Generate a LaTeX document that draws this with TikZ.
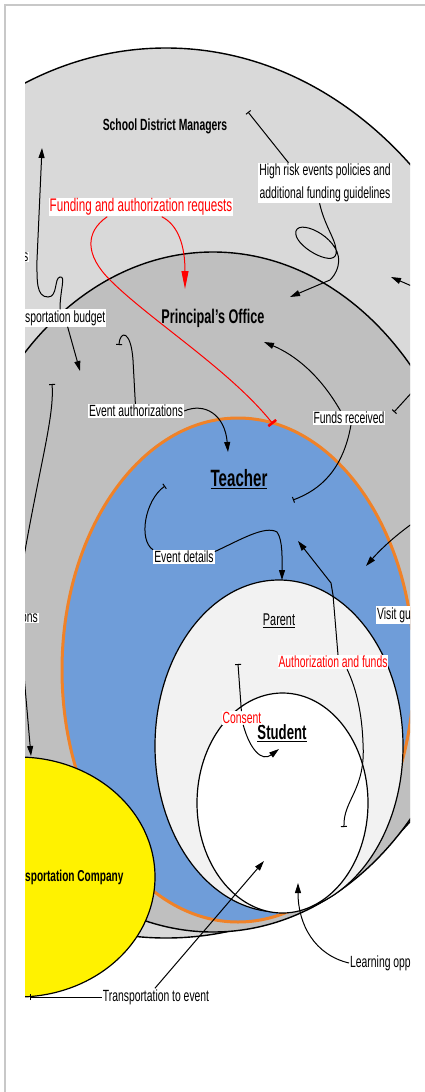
\documentclass[tikz,border=0pt]{standalone}
\usepackage{fontspec}
\setmainfont{Liberation Sans}[FakeStretch=0.64]
\usetikzlibrary{arrows.meta}
\definecolor{outergray}{RGB}{217,217,217}
\definecolor{midgray}{RGB}{191,191,191}
\definecolor{teacherblue}{RGB}{111,157,217}
\definecolor{rimorange}{RGB}{240,130,40}
\definecolor{parentgray}{RGB}{242,242,242}
\definecolor{framegray}{RGB}{200,200,200}

\begin{document}
\begin{tikzpicture}[x=1pt, y=-1pt,
	lbl/.style={fill=white, inner sep=1pt, font=\fontsize{16.2}{19}\selectfont},
	redlbl/.style={lbl, text=red},
	ttl/.style={inner sep=0pt, font=\fontsize{#1}{#1}\selectfont\bfseries},
	ttl/.default=16.2,
	arr/.style={-{Triangle[length=10pt,width=6pt]}, line width=1pt},
	tailed/.style={{Bar[width=6pt]}-, line width=1pt},
	redarr/.style={-{Triangle[length=18pt,width=7pt]}, red, line width=1pt},
	redtail/.style={-{Bar[width=10pt,line width=2.5pt]}, red, line width=1pt}]
		\useasboundingbox (0,0) rectangle (425,1092);
		\draw[framegray, line width=2pt] (5,1092) -- (5,5) -- (425,5);
		
		\begin{scope}
		\clip (25,20) rectangle (410,1030);
		
		% Circles
		\draw[fill=outergray, line width=1.4pt] (166,493) ellipse [x radius=362pt, y radius=445pt];
		\draw[fill=midgray, line width=1.4pt] (213,592) ellipse [x radius=265pt, y radius=340pt];
		\draw[fill=teacherblue, draw=rimorange, line width=3pt] (238,670) ellipse [x radius=176pt, y radius=252pt];
		\draw[fill=parentgray, line width=1.2pt] (279,746) ellipse [x radius=124pt, y radius=166pt];
		\draw[fill=white, line width=1.2pt] (282.5,803) ellipse [x radius=85.5pt, y radius=110pt];
		\draw[fill=yellow, line width=1.2pt] (18,877) ellipse [x radius=137pt, y radius=120pt];
		
		% Titles
		\node[ttl] (sdm) at (165,126) {School District Managers};
		\node[ttl=19.8] (office) at (213,318) {Principal's Office};
		\node[ttl=23.6] (teacher) at (239,479) {\underline{Teacher}};
		\node[inner sep=0pt, font=\fontsize{17}{17}\selectfont] (parent) at (279,621) {\underline{Parent}};
		\node[ttl=20.6] (student) at (282,733) {\underline{Student}};
		\node[ttl=15.8, anchor=west] (company) at (25,877) {sportation Company};
		
		% Labels
		\node[lbl, align=center, font=\fontsize{16.2}{23}\selectfont] (risk) at (325,183) {High risk events policies and\\additional funding guidelines};
		\node[redlbl, font=\fontsize{18.2}{21}\selectfont] (fund) at (141,207) {Funding and authorization requests};
		\node[lbl, anchor=east] (lefts) at (29.5,257) {s};
		\node[lbl, anchor=west] (bud) at (24,318) {sportation budget};
		\node[lbl] (evauth) at (136,411) {Event authorizations};
		\node[lbl] (fr) at (349,418) {Funds received};
		\node[lbl] (evdet) at (184,557) {Event details};
		\node[lbl, anchor=east, text width=46pt, align=right] (ons) at (39,618) {ons};
		\node[lbl, anchor=west] (visit) at (376,615) {Visit gu};
		\node[redlbl] (authf) at (333,662) {Authorization and funds};
		\node[redlbl] (consent) at (242,718) {Consent};
		\node[lbl] (trans) at (156,997) {Transportation to event};
		\node[lbl, anchor=west] (learn) at (349,963) {Learning opp};
		
		% Ends of connectors
		\coordinate (rt) at (248,112);
		\coordinate (pa) at (290,297);
		\coordinate (r1s) at (430,294);
		\coordinate (r1e) at (391,277);
		\coordinate (r2s) at (425,378);
		\coordinate (r2e) at (394,412);
		\coordinate (rb) at (273,424);
		\coordinate (pr) at (185,289);
		\coordinate (lu) at (42,148);
		\coordinate (bd) at (80,371);
		\coordinate (lt) at (52,384);
		\coordinate (yt) at (31,756);
		\coordinate (ea1) at (119,345);
		\coordinate (eat) at (228,452);
		\coordinate (fa1) at (264,342);
		\coordinate (fb) at (293,500);
		\coordinate (ed1) at (165,486);
		\coordinate (edt) at (282,580);
		\coordinate (r3s) at (430,512);
		\coordinate (r3e) at (366,566);
		\coordinate (af1) at (344,827);
		\coordinate (aft) at (298,541);
		\coordinate (cs1) at (238,664);
		\coordinate (ct) at (279,749);
		\coordinate (lo) at (298,883);
		\coordinate (tt) at (264,861);
		\coordinate (yb) at (30,997);
		
		% Connectors
		\draw[tailed] (rt) -- (risk.151);
		\draw[arr] (risk.255) .. controls (325,228) and (338,242) .. (336,254) .. controls (333,268) and (292,245) .. (296,231) .. controls (300,218) and (345,240) .. (338,266) .. controls (336,274) and (332,278) .. (330,280) -- (pa);
		\draw[arr] (r1s) -- (r1e);
		\draw[tailed] (r2e) -- (r2s);
		\draw[redtail] (fund.196) .. controls (85,232) and (85,255) .. (110,280) .. controls (150,320) and (230,370) .. (rb);
		\draw[redarr] (fund.335) .. controls (178,225) and (185,245) .. (pr);
		\draw[arr] (bud.121) .. controls (60,290) and (66,276) .. (60,277) .. controls (54,278) and (58,297) .. (48,297) .. controls (36,297) and (37,280) .. (37,260) -- (lu);
		\draw[arr] (bud.285) -- (bd);
		\draw[tailed] (lt) .. controls (55,420) and (35,480) .. (ons.north);
		\draw[arr] (ons.310) -- (yt);
		\draw[tailed] (ea1) .. controls (120,330) and (131,330) .. (133,360) -- (evauth.95);
		\draw[arr] (evauth.east) .. controls (205,402) and (225,415) .. (eat);
		\draw[arr] (fr.140) .. controls (320,375) and (295,355) .. (fa1);
		\draw[tailed] (fb) .. controls (320,490) and (343,470) .. (fr.-75);
		\draw[tailed] (ed1) .. controls (145,500) and (138,540) .. (evdet.north west);
		\draw[arr] (evdet.10) .. controls (240,540) and (265,525) .. (277,532) .. controls (283,540) and (282,560) .. (edt);
		\draw[arr] (r3s) .. controls (400,530) and (380,550) .. (r3e);
		\draw[tailed] (af1) .. controls (343,800) and (366,790) .. (363,743) .. controls (362,715) and (357,690) .. (authf.-27);
		\draw[arr] (authf.55) -- (333,595) -- (331,583) -- (aft);
		\draw[tailed] (cs1) -- (consent.95);
		\draw[arr] (consent.-80) .. controls (250,750) and (262,762) .. (ct);
		\draw[arr] (learn.west) .. controls (315,955) and (298,925) .. (lo);
		\draw[arr] (trans.97) -- (tt);
		\draw[tailed] (yb) -- (trans.west);
		\end{scope}
	\end{tikzpicture}
\end{document}
